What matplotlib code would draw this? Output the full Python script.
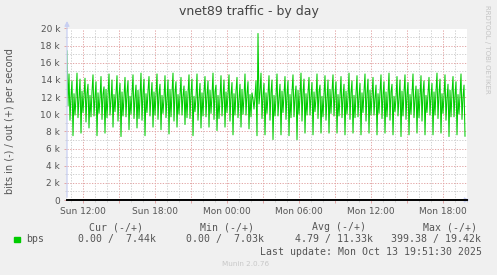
import numpy as np
import matplotlib
matplotlib.use("Agg")
import matplotlib.pyplot as plt
from matplotlib.patches import Rectangle
from matplotlib.ticker import MultipleLocator, FixedLocator

# time axis: hours since Sun 00:00, one sample every 5 minutes
t_start = 10 + 40 / 60
t_end = 44.0
step_h = 5 / 60

# out (+) traffic in k bits/s
bps_out_k = [
    17.4, 11.0,
    14.7, 9.3, 12.1, 13.9, 7.5, 12.4, 9.9, 12.0,
    14.8, 9.6, 11.8, 14.1, 7.8, 12.7, 10.2, 12.3,
    14.2, 9.1, 12.4, 13.5, 8.4, 12.2, 9.7, 12.6,
    14.6, 9.8, 12.0, 13.8, 7.5, 12.5, 10.1, 11.9,
    14.4, 9.4, 12.3, 13.2, 7.8, 12.9, 9.6, 12.2,
    14.7, 9.9, 11.7, 14.0, 8.5, 12.3, 10.3, 12.5,
    14.5, 9.2, 12.2, 13.6, 7.4, 12.6, 9.8, 12.1,
    14.3, 9.7, 12.5, 13.9, 8.2, 12.1, 10.0, 12.4,
    14.6, 9.5, 11.9, 13.4, 8.4, 12.8, 9.5, 12.0,
    14.8, 9.3, 12.4, 14.1, 7.5, 12.4, 10.2, 12.7,
    14.4, 9.8, 12.0, 13.7, 8.5, 12.6, 9.9, 12.2,
    14.7, 9.4, 12.3, 13.5, 8.2, 12.2, 10.1, 11.9,
    14.5, 9.6, 11.8, 14.0, 7.7, 12.9, 9.7, 12.5,
    14.8, 9.2, 12.5, 13.8, 8.5, 12.3, 10.0, 12.1,
    14.3, 9.9, 12.1, 13.3, 8.8, 12.7, 9.6, 12.4,
    14.6, 9.5, 12.4, 14.1, 7.5, 12.1, 10.3, 12.0,
    14.7, 9.3, 11.9, 13.6, 8.4, 12.5, 9.8, 12.6,
    14.4, 9.7, 12.2, 13.9, 8.5, 12.8, 10.1, 12.2,
    14.8, 9.4, 12.6, 13.4, 8.1, 12.2, 9.5, 11.9,
    14.5, 9.8, 12.0, 14.0, 8.5, 12.6, 10.2, 12.4,
    14.6, 9.2, 12.3, 13.7, 7.6, 12.4, 9.9, 12.7,
    14.3, 9.6, 11.8, 13.5, 8.5, 12.9, 10.0, 12.1,
    14.7, 9.9, 12.4, 13.8, 8.3, 12.3, 9.7, 12.5,
    11.8, 10.6, 12.0, 13.9, 7.5, 19.42, 11.2, 12.6,
    14.8, 9.5, 12.2, 13.6, 7.6, 12.5, 10.1, 12.3,
    14.5, 9.3, 12.5, 14.0, 7.05, 12.2, 9.8, 12.0,
    14.7, 9.8, 11.9, 13.5, 7.6, 12.7, 10.2, 12.4,
    14.4, 9.4, 12.3, 13.9, 7.5, 12.3, 9.6, 12.6,
    14.6, 9.7, 12.0, 13.3, 7.03, 12.8, 10.0, 12.1,
    14.8, 9.2, 12.4, 14.1, 7.8, 12.4, 9.9, 12.5,
    14.3, 9.9, 12.1, 13.7, 7.6, 12.6, 10.3, 11.9,
    14.7, 9.5, 12.6, 13.4, 7.8, 12.1, 9.7, 12.3,
    14.5, 9.3, 11.8, 14.0, 7.8, 12.9, 10.1, 12.6,
    14.6, 9.8, 12.3, 13.8, 7.8, 12.3, 9.8, 12.2,
    14.4, 9.6, 12.0, 13.5, 7.6, 12.7, 10.0, 12.0,
    14.8, 9.4, 12.5, 13.9, 7.8, 12.2, 9.6, 12.4,
    14.5, 9.7, 12.1, 13.6, 7.6, 12.5, 10.2, 12.7,
    14.7, 9.2, 12.4, 14.1, 7.8, 12.8, 9.9, 12.1,
    14.3, 9.9, 11.9, 13.4, 7.6, 12.4, 10.1, 12.5,
    14.6, 9.5, 12.2, 13.8, 7.8, 12.6, 9.7, 12.2,
    14.8, 9.3, 12.6, 13.5, 7.6, 12.1, 10.3, 11.9,
    14.4, 9.8, 12.0, 14.0, 7.4, 12.7, 9.8, 12.6,
    14.6, 9.4, 12.3, 13.7, 7.6, 12.3, 10.0, 12.3,
    14.7, 9.6, 11.8, 13.3, 7.8, 12.9, 9.6, 12.0,
    14.5, 9.2, 12.5, 13.9, 7.6, 12.2, 10.2, 12.4,
    14.3, 9.9, 12.1, 13.6, 7.6, 12.6, 9.9, 12.7,
    14.8, 9.5, 12.4, 14.1, 7.8, 12.4, 10.1, 12.1,
    14.6, 9.3, 11.9, 13.5, 7.4, 12.8, 9.7, 12.5,
    14.4, 9.7, 12.2, 13.8, 7.6, 12.3, 10.0, 12.2,
    14.7, 9.4, 12.0, 13.4, 7.44,
]
# in (-) traffic is practically zero the whole day (avg 4.79 bps)
bps_in = [0.0] * len(bps_out_k)

x_label_pos = [12, 18, 24, 30, 36, 42]
x_labels = ["Sun 12:00", "Sun 18:00", "Mon 00:00", "Mon 06:00", "Mon 12:00", "Mon 18:00"]
y_tick_pos = [0, 2000, 4000, 6000, 8000, 10000, 12000, 14000, 16000, 18000, 20000]
y_labels = ["0", "2 k", "4 k", "6 k", "8 k", "10 k", "12 k", "14 k", "16 k", "18 k", "20 k"]

legend_head = ["Cur (-/+)", "Min (-/+)", "Avg (-/+)", "Max (-/+)"]
legend_vals = ["0.00 /  7.44k", "0.00 /  7.03k", "4.79 / 11.33k", "399.38 / 19.42k"]

W, H = 497, 275
bg = "#f0f0f0"
green = "#00cc00"
txt = "#555555"
axis_col = "#c8cff2"
minor_col = "#cfcfcf"
major_col = "#e3a6a6"


def fx(px):
    return px / W


def fy(py):
    return 1 - py / H


fig = plt.figure(figsize=(W / 100, H / 100), dpi=100, facecolor=bg)
ax = fig.add_axes([fx(67), fy(200), fx(400), (200 - 28.5) / H])
ax.set_facecolor("white")

t = t_start + step_h * np.arange(len(bps_out_k))
out_vals = np.array(bps_out_k) * 1000
ax.plot(t, out_vals, color=green, lw=0.75, zorder=3)
ax.plot(t, -np.array(bps_in), color=green, lw=0.75, zorder=3)

ax.set_xlim(t_start, t_end)
ax.set_ylim(0, 20000)

# ticks and grid
maj_x = np.arange(12, 44, 3)
ax.xaxis.set_major_locator(FixedLocator(maj_x))
ax.set_xticklabels([x_labels[x_label_pos.index(v)] if v in x_label_pos else "" for v in maj_x])
ax.xaxis.set_minor_locator(MultipleLocator(1))
ax.set_yticks(y_tick_pos)
ax.set_yticklabels(y_labels)
ax.yaxis.set_minor_locator(MultipleLocator(1000))

dots = (0, (1.3, 1.5))
ax.grid(True, which="minor", color=minor_col, lw=0.7, ls=dots, zorder=1)
ax.grid(True, which="major", color=major_col, lw=0.7, ls=dots, zorder=1)
ax.set_axisbelow(True)

ax.tick_params(axis="both", which="major", labelsize=6.5, labelcolor=txt,
               color=major_col, length=2.5, width=0.7, pad=2.5)
ax.tick_params(axis="both", which="minor", color=minor_col, length=1.5, width=0.7)

for s in ax.spines.values():
    s.set_visible(False)

# rrdtool style axes with arrows, and black zero line
ax.annotate("", xy=(t_start, 21200), xytext=(t_start, 0), annotation_clip=False,
            arrowprops=dict(arrowstyle="-|>", color=axis_col, lw=0.9, mutation_scale=7))
ax.annotate("", xy=(t_end + 0.45, 0), xytext=(t_start, 0), annotation_clip=False,
            arrowprops=dict(arrowstyle="-|>", color=axis_col, lw=0.9, mutation_scale=7))
ax.plot([t_start, t_end], [0, 0], color="black", lw=1.4, zorder=4, clip_on=False)

# texts
fig.text(0.5, fy(12), "vnet89 traffic - by day", ha="center", va="center",
         fontsize=9, color="#444444")
fig.text(fx(10), fy(121), "bits in (-) / out (+) per second", rotation=90,
         ha="center", va="center", fontsize=7, color=txt)
fig.text(fx(487), fy(5), "RRDTOOL / TOBI OETIKER", rotation=270, ha="center",
         va="top", fontsize=5, color="#c4c4c4")

mono = "DejaVu Sans Mono"
for x0, s in zip([89, 200, 312, 423], legend_head):
    fig.text(fx(x0), fy(227), s, ha="left", va="center", fontsize=7.1,
             family=mono, color=txt)
fig.patches.append(Rectangle((fx(14), fy(242)), fx(5.5), 5.5 / H, color=green,
                             transform=fig.transFigure, figure=fig))
fig.text(fx(26.5), fy(239), "bps", ha="left", va="center", fontsize=7.1,
         family=mono, color=txt)
for x0, s in zip([78.5, 186.5, 295, 391], legend_vals):
    fig.text(fx(x0), fy(239), s, ha="left", va="center", fontsize=7.1,
             family=mono, color=txt)
fig.text(fx(482.5), fy(252), "Last update: Mon Oct 13 19:51:30 2025", ha="right",
         va="center", fontsize=7.1, family=mono, color=txt)
fig.text(fx(222.5), fy(264.5), "Munin 2.0.76", ha="left", va="center",
         fontsize=5.2, color="#c8c8c8")

fig.savefig("out.png", dpi=100, facecolor=bg)
